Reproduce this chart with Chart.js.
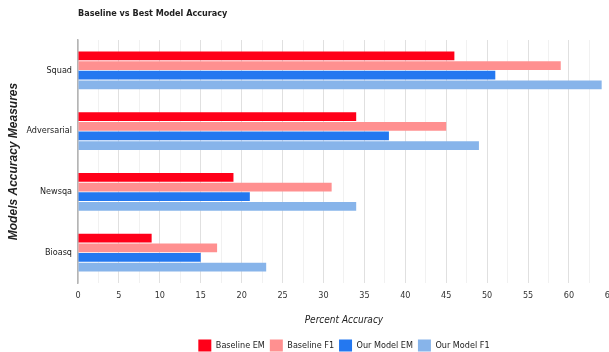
<!DOCTYPE html>
<html>
<head>
<meta charset="utf-8">
<script src="https://cdn.jsdelivr.net/npm/chart.js@4"></script>
<style>
  html, body { margin: 0; padding: 0; background: #fff; overflow: hidden; }
  #wrap { position: relative; width: 622px; height: 352px; }
</style>
</head>
<body>
<div id="wrap"><canvas id="c"></canvas></div>
<script>
const TITLE = "Baseline vs Best Model Accuracy";
const categories = ["Squad", "Adversarial", "Newsqa", "Bioasq"];
const seriesNames = ["Baseline EM", "Baseline F1", "Our Model EM", "Our Model F1"];
const baselineEM = [46, 34, 19, 9];
const baselineF1 = [59, 45, 31, 17];
const ourModelEM = [51, 38, 21, 15];
const ourModelF1 = [64, 49, 34, 23];
const seriesColors = ["#ff0019", "#ff9090", "#2478f0", "#87b4ea"];
const xTitle = "Percent Accuracy";
const yTitle = "Models Accuracy Measures";
const xMin = 0, xMax = 65, xStep = 2.5, labelEvery = 5;

const NARROW = "'Liberation Sans Narrow', 'Arial Narrow', 'DejaVu Sans Condensed', sans-serif";
const WIDE = "'Liberation Sans', Arial, sans-serif";

const titlePlugin = {
  id: 'leftTitle',
  afterDraw(chart) {
    const ctx = chart.ctx;
    ctx.save();
    ctx.font = "bold 9px " + NARROW;
    ctx.fillStyle = '#222';
    ctx.textBaseline = 'middle';
    ctx.textAlign = 'left';
    ctx.fillText(TITLE, chart.chartArea.left, 14);
    ctx.restore();
  }
};
const legendShift = {
  id: 'legendShift',
  afterLayout(chart) {
    const lg = chart.legend;
    if (!lg) return;
    const target = (chart.chartArea.left + chart.chartArea.right) / 2;
    const cur = (lg.left + lg.right) / 2;
    const s = target - cur;
    lg.left += s; lg.right += s;
    lg.top += 9.5; lg.bottom += 9.5;
  }
};

const allSeries = [baselineEM, baselineF1, ourModelEM, ourModelF1];
new Chart(document.getElementById('c'), {
  type: 'bar',
  data: {
    labels: categories,
    datasets: allSeries.map((d, i) => ({
      label: seriesNames[i],
      data: d,
      backgroundColor: seriesColors[i],
      borderWidth: 0,
      categoryPercentage: 0.64,
      barPercentage: 0.9
    }))
  },
  options: {
    indexAxis: 'y',
    responsive: true,
    maintainAspectRatio: false,
    animation: false,
    layout: { padding: { top: 40, left: 0, right: 0, bottom: 0 } },
    plugins: {
      title: { display: false },
      tooltip: { enabled: false },
      legend: {
        position: 'bottom',
        labels: {
          boxWidth: 13, boxHeight: 12, padding: 5,
          color: '#222',
          font: { family: NARROW, size: 9 }
        }
      }
    },
    scales: {
      x: {
        min: xMin, max: xMax,
        grid: {
          drawTicks: false,
          color: ctx => (ctx.tick && ctx.tick.value % labelEvery === 0) ? '#e0e0e0' : '#f1f1f1',
          lineWidth: 1
        },
        border: { display: false },
        ticks: {
          stepSize: xStep, autoSkip: false, maxRotation: 0, padding: 7,
          color: '#333',
          font: { family: NARROW, size: 9 },
          callback: v => (v % labelEvery === 0) ? String(v) : ''
        },
        title: {
          display: true, text: xTitle, color: '#222',
          font: { family: NARROW, size: 10, style: 'italic' },
          padding: { top: 0, bottom: -1 }
        },
        afterFit: s => { s.height = 42; }
      },
      y: {
        grid: { display: false, drawTicks: false },
        border: { display: true, color: '#b5b5b5', width: 1.5 },
        ticks: { color: '#222', padding: 6, font: { family: NARROW, size: 9 } },
        title: {
          display: true, text: yTitle, color: '#222',
          font: { family: WIDE, size: 12, style: 'italic', weight: 'bold' },
          padding: { top: 6, bottom: 0 }
        },
        afterFit: s => { s.width = 78; }
      }
    }
  },
  plugins: [titlePlugin, legendShift]
});
</script>
</body>
</html>
